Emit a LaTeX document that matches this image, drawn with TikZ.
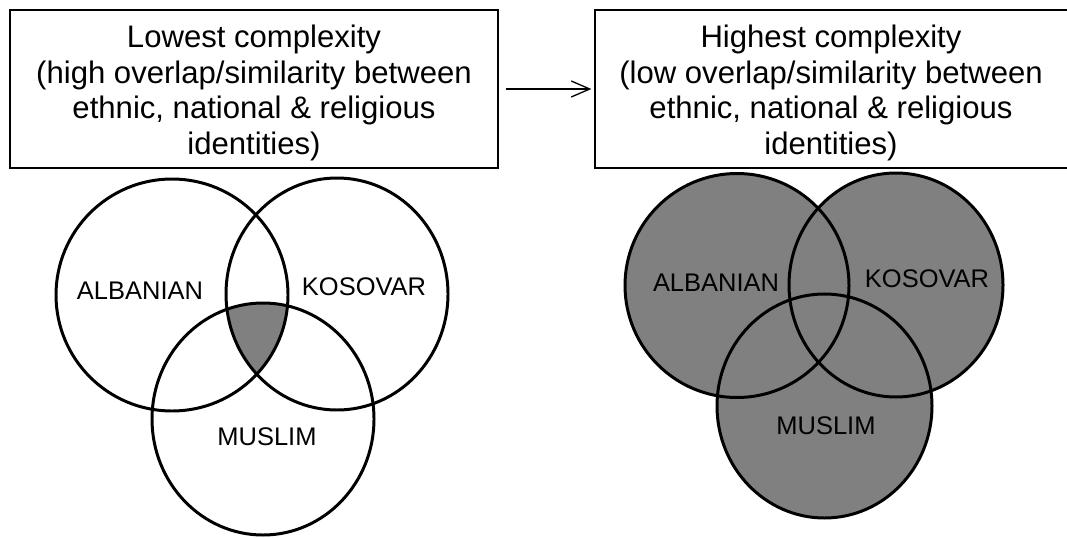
\documentclass[tikz,border=0pt]{standalone}
\usepackage{fontspec}
\setmainfont{Liberation Sans}
\usetikzlibrary{arrows.meta, positioning}
\definecolor{vennshade}{RGB}{128,128,128}
\tikzset{
    idbox/.style={rectangle, draw=black, line width=0.75pt, inner sep=0pt, minimum height=3.16cm},
    idtext/.style={align=center, inner sep=0pt, font=\fontsize{17.7}{20.4}\selectfont},
    venn/.style={draw=black, line width=1.7pt},
    idlabel/.style={inner sep=0pt, font=\fontsize{14.5}{17}\selectfont},
    flow/.style={-{Straight Barb[length=3.7mm, width=3.2mm]}, line width=0.75pt, shorten <=1.4mm, shorten >=0.6mm},
}

\begin{document}
\begin{tikzpicture}[x=0.02cm, y=-0.02cm]
    \useasboundingbox (0,0) rectangle (1067,537);
    % boxes and arrow
    \node[idbox, minimum width=9.76cm] (lowbox) at (254,89) {};
    \node[idbox, minimum width=9.5cm] (highbox) at (832.5,89) {};
    \node[idtext] (lowtxt) at (254,93) {Lowest complexity\\(high overlap/similarity between\\ethnic, national \& religious\\identities)};
    \node[idtext] (hightxt) at (831,93) {Highest complexity\\(low overlap/similarity between\\ethnic, national \& religious\\identities)};
    \draw[flow] (lowbox.east) -- (highbox.west);
    % left venn: only the common core shaded
    \coordinate (lalb) at (172,295);
    \coordinate (lkos) at (337,294);
    \coordinate (lmus) at (263,419);
    \begin{scope}
        \clip (lalb) circle [radius=116];
        \clip (lkos) ellipse [x radius=111, y radius=116];
        \fill[vennshade] (lmus) ellipse [x radius=111, y radius=116];
    \end{scope}
    \draw[venn] (lalb) circle [radius=116];
    \draw[venn] (lkos) ellipse [x radius=111, y radius=116];
    \draw[venn] (lmus) ellipse [x radius=111, y radius=116];
    \node[idlabel] (lalbtxt) at (140,290.5) {ALBANIAN};
    \node[idlabel] (lkostxt) at (364,287) {KOSOVAR};
    \node[idlabel] (lmustxt) at (267,437) {MUSLIM};
    % right venn: everything shaded
    \coordinate (ralb) at (737,285.5);
    \coordinate (rkos) at (896,285);
    \coordinate (rmus) at (824.5,406);
    \fill[vennshade] (ralb) circle [radius=112] (rkos) ellipse [x radius=107, y radius=112] (rmus) ellipse [x radius=107.5, y radius=112];
    \draw[venn] (ralb) circle [radius=112];
    \draw[venn] (rkos) ellipse [x radius=107, y radius=112];
    \draw[venn] (rmus) ellipse [x radius=107.5, y radius=112];
    \node[idlabel] (ralbtxt) at (716,283) {ALBANIAN};
    \node[idlabel] (rkostxt) at (927,279) {KOSOVAR};
    \node[idlabel] (rmustxt) at (826,426) {MUSLIM};
\end{tikzpicture}
\end{document}
